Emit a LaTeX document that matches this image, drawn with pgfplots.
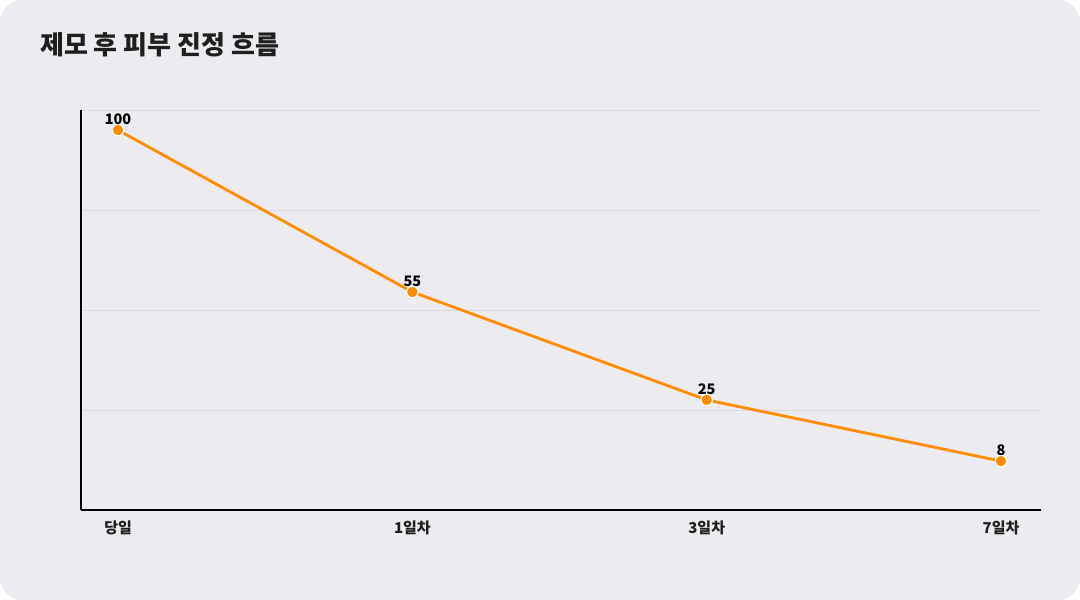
\documentclass[border=0pt]{standalone}
\usepackage{fontspec}
\setmainfont{Noto Sans CJK KR}
\usepackage{pgfplots}
\pgfplotsset{compat=1.18}
\definecolor{bgc}{RGB}{236,235,240}
\definecolor{linec}{RGB}{255,140,0}
\definecolor{gridc}{RGB}{216,216,221}
\begin{document}
\begin{tikzpicture}[x=1pt,y=1pt]
  % card background
  \fill[white] (0,0) rectangle (1080,600);
  \fill[bgc, rounded corners=22pt] (0,0) rectangle (1080,600);
  \node[anchor=base west, font=\bfseries\fontsize{26}{29}\selectfont, text=black!88, inner sep=0pt]
    at (40,545) {제모 후 피부 진정 흐름};
  \begin{axis}[
    at={(81pt,90pt)}, anchor=south west,
    scale only axis, width=960pt, height=400pt,
    xmin=-0.126, xmax=3.136,
    ymin=-5.6, ymax=105.6,
    axis x line*=bottom, axis y line*=left,
    axis line style={black, line width=2pt, -},
    xtick={0,1,2,3}, xticklabels={당일,1일차,3일차,7일차},
    xticklabel style={font=\bfseries\fontsize{15}{17}\selectfont, text=black!88, yshift=-7pt},
    ytick={22.2,50,77.8,105.6}, yticklabels={},
    ymajorgrids, grid style={gridc, line width=0.9pt},
    major tick length=0pt,
    /pgf/number format/assume math mode=true,
    nodes near coords,
    every node near coord/.append style={anchor=south, inner sep=0pt, yshift=5pt,
      font=\bfseries\fontsize{14.5}{16}\selectfont, text=black},
    clip=false,
  ]
    \addplot[linec, line width=2.8pt, mark=*,
      mark options={fill=linec, draw=white, line width=1.3pt, scale=2.9}]
      coordinates {(0,100) (1,55) (2,25) (3,8)};
  \end{axis}
\end{tikzpicture}
\end{document}
